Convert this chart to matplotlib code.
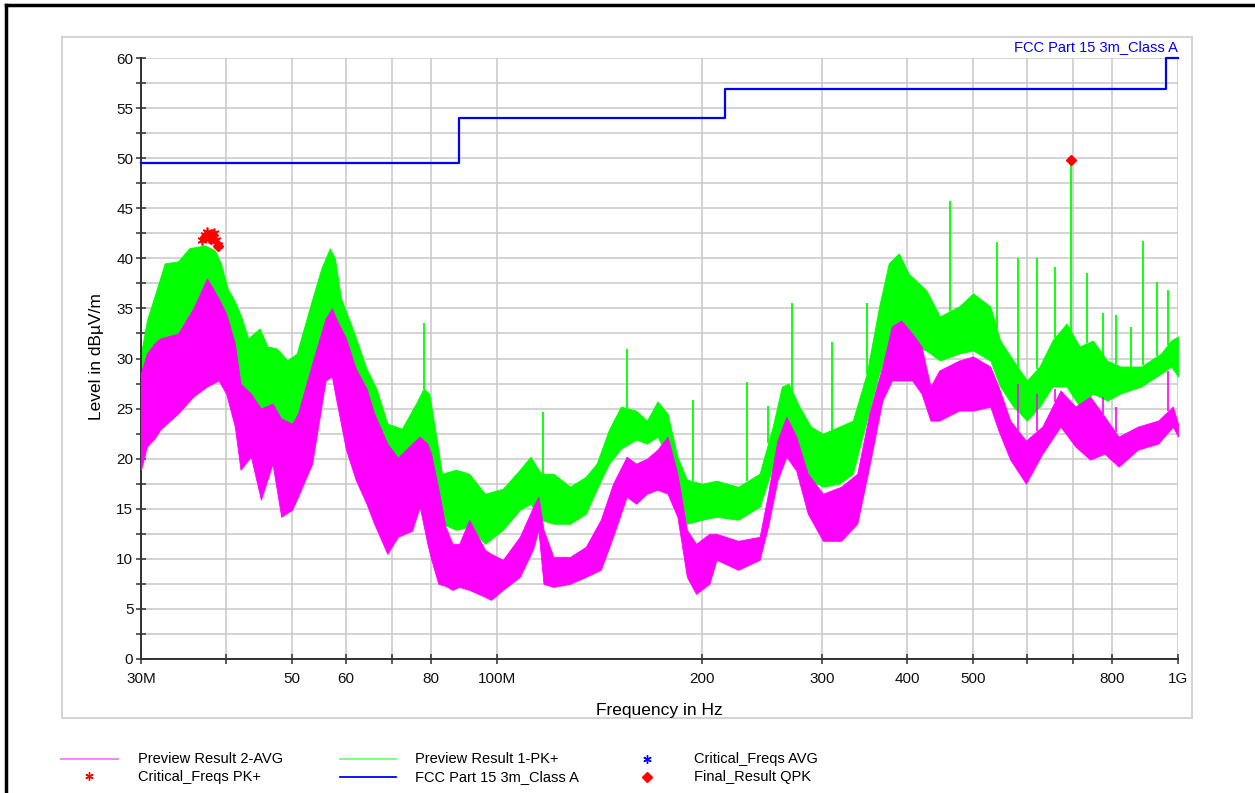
import numpy as np
import matplotlib.pyplot as plt
from matplotlib.lines import Line2D
from matplotlib.patches import Rectangle
from matplotlib.ticker import FixedLocator, MultipleLocator, NullLocator

plt.rcParams['font.family'] = ['Liberation Sans', 'DejaVu Sans']

# --- data (frequency in MHz, level in dBuV/m) ---
# peak trace envelope
pk_freq = [30, 30.6, 31.4, 32.5, 34, 35.3, 37.2, 38.5, 39.3, 40.2, 41.2, 42.1, 43.1,
           44.8, 46, 47.5, 49.2, 50.8, 53.3, 55.2, 56.8, 57.8, 59, 61.5, 64.3, 66.5,
           69, 72.5, 76, 78, 79.5, 81.5, 83, 87, 91, 96, 102, 108, 112, 116, 121, 128,
           135, 140, 146, 152, 160, 166, 172, 178, 184, 190, 200, 210, 226, 243, 254,
           262, 268, 278, 289, 301, 318, 333, 349, 364, 376, 389, 402, 427, 447, 477,
           500, 530, 548, 573, 600, 626, 654, 686, 717, 750, 787, 823, 883, 944, 977, 1000]
pk_high = [30.5, 33.8, 36.2, 39.5, 39.7, 41.0, 41.3, 40.8, 39.5, 37.0, 35.7, 34.2, 32.0,
           33.0, 31.2, 31.0, 29.8, 30.5, 35.5, 39.0, 41.0, 40.0, 36.0, 32.8, 29.0, 27.0,
           23.5, 23.0, 25.5, 27.0, 26.5, 22.0, 18.5, 18.9, 18.5, 16.5, 17.0, 18.9, 20.2,
           18.5, 18.5, 17.2, 18.2, 19.5, 22.9, 25.2, 24.8, 23.8, 25.7, 24.5, 20.2, 17.9,
           17.5, 17.8, 17.2, 18.5, 23.2, 27.2, 27.5, 25.2, 23.2, 22.5, 23.2, 23.8, 28.5,
           35.2, 39.5, 40.5, 38.5, 36.8, 34.2, 35.2, 36.5, 35.2, 31.8, 29.8, 27.8, 29.2,
           31.8, 33.5, 31.2, 31.8, 29.8, 29.2, 29.2, 30.5, 31.8, 32.2]
pk_low = [25.0, 27.0, 28.8, 30.5, 31.0, 31.5, 32.5, 32.5, 31.0, 29.0, 27.0, 25.5, 24.5,
          23.5, 22.8, 22.5, 21.5, 22.5, 26.0, 29.0, 30.5, 30.0, 28.0, 24.5, 21.5, 19.5,
          18.0, 18.5, 20.0, 22.0, 21.0, 16.9, 13.5, 12.9, 13.2, 11.5, 12.9, 14.9, 15.5,
          13.9, 13.5, 13.5, 14.5, 16.9, 19.5, 21.0, 21.9, 21.5, 22.2, 20.2, 16.5, 13.5,
          13.9, 14.2, 13.9, 15.2, 19.2, 21.8, 22.0, 20.5, 17.8, 17.2, 17.5, 18.5, 23.8,
          28.5, 31.2, 31.2, 31.2, 30.8, 29.8, 30.5, 30.8, 29.8, 27.2, 25.2, 23.8, 25.2,
          27.2, 27.2, 25.2, 26.5, 25.8, 26.5, 27.2, 28.5, 29.2, 28.2]

# narrow peak spikes on the peak trace
pk_spike_freq = [78, 116.7, 155, 194, 232.8, 250, 271, 310, 349, 463, 542, 582, 621,
                 659, 696, 735, 776, 810, 853, 888, 931, 966]
pk_spike_level = [33.5, 24.7, 30.9, 25.9, 27.7, 25.3, 35.5, 31.6, 35.5, 45.7, 41.6, 40.0,
                  40.0, 39.1, 49.5, 38.5, 34.5, 34.3, 33.1, 41.7, 37.6, 36.8]

# average trace envelope
avg_freq = [30, 30.6, 31.4, 32, 34, 35.8, 37.5, 39, 40, 41.2, 42, 43.5, 45, 46.8, 48.2,
            50, 51, 53.5, 56, 57.2, 58, 60, 62, 64.3, 66, 69, 71.5, 75, 77, 79, 80, 82,
            84, 86, 88, 91, 96, 98, 102, 108, 113, 115, 117, 121, 128, 135, 142, 148,
            155, 160, 166, 172, 178, 184, 190, 196, 205, 210, 226, 243, 250, 258, 266,
            275, 286, 301, 320, 338, 352, 368, 380, 392, 407, 420, 433, 446, 477, 500,
            530, 545, 567, 598, 632, 672, 707, 743, 780, 818, 873, 935, 983, 1000]
avg_high = [28.6, 30.5, 31.5, 32.0, 32.5, 35.0, 38.0, 36.0, 34.5, 31.5, 27.5, 26.5, 25.0,
            25.5, 24.0, 23.5, 24.5, 29.5, 34.0, 35.0, 34.0, 32.0, 29.0, 27.0, 24.5, 21.5,
            20.1, 21.5, 22.2, 21.5, 20.5, 17.0, 13.2, 11.5, 11.5, 13.9, 10.9, 10.5, 9.9,
            12.2, 15.2, 16.2, 12.9, 10.2, 10.2, 11.2, 13.9, 17.5, 20.2, 19.5, 20.0, 20.9,
            22.2, 18.5, 12.9, 11.5, 12.5, 12.5, 11.8, 12.2, 16.5, 21.8, 24.2, 22.2, 18.5,
            16.5, 17.2, 18.5, 24.5, 29.2, 33.2, 33.8, 32.5, 31.2, 27.2, 28.8, 29.8, 30.2,
            29.2, 27.2, 23.8, 21.8, 23.2, 26.8, 25.2, 26.2, 24.2, 22.2, 23.2, 23.8, 25.2, 23.5]
avg_low = [18.9, 21.2, 22.0, 22.9, 24.5, 26.2, 27.2, 27.8, 26.5, 23.2, 18.9, 20.2, 15.9,
           19.5, 14.2, 14.9, 16.2, 19.5, 27.8, 28.2, 26.0, 20.9, 17.9, 15.5, 13.5, 10.5,
           12.2, 12.8, 15.2, 11.5, 10.0, 7.5, 7.3, 6.9, 7.2, 6.9, 6.2, 5.9, 6.9, 8.2,
           11.0, 12.9, 7.5, 7.2, 7.5, 8.2, 8.9, 12.2, 16.2, 15.5, 16.5, 16.9, 16.5, 14.2,
           8.2, 6.5, 7.5, 9.9, 8.9, 9.9, 13.2, 17.8, 20.2, 18.8, 14.5, 11.8, 11.8, 13.5,
           19.2, 25.8, 27.8, 27.8, 27.8, 26.5, 23.8, 23.8, 24.8, 24.8, 25.2, 22.8, 19.9,
           17.5, 20.5, 23.2, 21.2, 19.9, 20.5, 19.2, 20.9, 21.5, 23.2, 22.2]

avg_spike_freq = [582, 621, 659, 776, 810, 968]
avg_spike_level = [27.5, 26.5, 27.0, 26.2, 25.2, 28.8]

# limit line (FCC Part 15, 3 m, class A)
limit_freq = [30, 88, 216, 960, 1000]
limit_level = [49.5, 54.0, 56.9, 60.0, 60.0]

# markers
crit_pk_freq = [36.9, 37.2, 37.5, 37.8, 38.1, 38.4, 38.7, 38.9]
crit_pk_level = [41.8, 42.3, 42.6, 42.0, 42.4, 42.5, 41.8, 41.3]
qpk_freq = [37.3, 38.0, 38.9, 696]
qpk_level = [42.1, 41.9, 41.2, 49.8]

xtick_vals = [30, 40, 50, 60, 70, 80, 100, 200, 300, 400, 500, 600, 700, 800, 1000]
xtick_labels = ['30M', '', '50', '60', '', '80', '100M', '200', '300', '400', '500',
                '', '', '800', '1G']

GREEN = '#00ff00'
MAGENTA = '#ff00ff'
BLUE = '#0000ff'
RED = '#ff0000'

W, H = 1255, 793
def fx(x):
    return x / W
def fy(y):
    return 1 - y / H

fig = plt.figure(figsize=(12.55, 7.93), dpi=100)

# outer frame and grey panel
fig.add_artist(Line2D([fx(6), 1], [fy(5), fy(5)], color='black', lw=2.5))
fig.add_artist(Line2D([fx(6), fx(6)], [0, fy(5)], color='black', lw=2.5))
fig.add_artist(Rectangle((fx(62), fy(718)), fx(1192) - fx(62), fy(37) - fy(718),
                         transform=fig.transFigure, fill=False, edgecolor='#d4d4d4', lw=1.5))

ax = fig.add_axes([fx(141), fy(659), fx(1178) - fx(141), fy(58) - fy(659)])
ax.set_xscale('log')

# peak trace
ax.fill_between(pk_freq, pk_low, pk_high, color=GREEN, lw=0.6, zorder=2)
lf = np.log10(pk_freq)
pk_base = np.interp(np.log10(pk_spike_freq), lf, pk_high)
ax.vlines(pk_spike_freq, pk_base, pk_spike_level, color=GREEN, lw=1.3, zorder=2)

# average trace
ax.fill_between(avg_freq, avg_low, avg_high, color=MAGENTA, lw=0.6, zorder=3)
avg_base = np.interp(np.log10(avg_spike_freq), np.log10(avg_freq), avg_high)
ax.vlines(avg_spike_freq, avg_base, avg_spike_level, color=MAGENTA, lw=1.2, zorder=3)

# limit
ax.step(limit_freq, limit_level, where='post', color=BLUE, lw=1.6, zorder=4, clip_on=False)

# markers
ax.plot(crit_pk_freq, crit_pk_level, ls='none', marker=(6, 2, 0), color=RED,
        ms=7, mew=1.2, zorder=5)
ax.plot(qpk_freq, qpk_level, ls='none', marker='D', color=RED, ms=5.5, zorder=6)

ax.set_xlim(30, 1000)
ax.set_ylim(0, 60)
ax.xaxis.set_major_locator(FixedLocator(xtick_vals))
ax.set_xticklabels(xtick_labels)
ax.xaxis.set_minor_locator(NullLocator())
ax.yaxis.set_major_locator(MultipleLocator(5))
ax.yaxis.set_minor_locator(MultipleLocator(2.5))

ax.grid(True, which='both', color='#c8c8c8', lw=1.1)
ax.set_axisbelow(True)
for s in ['top', 'right']:
    ax.spines[s].set_visible(False)
for s in ['left', 'bottom']:
    ax.spines[s].set_color('#303030')
    ax.spines[s].set_linewidth(1.4)
ax.tick_params(axis='both', which='both', direction='inout', length=7, width=1.1,
               color='#303030', labelsize=11, labelcolor='#111111')
ax.tick_params(axis='x', pad=6)
ax.tick_params(axis='y', pad=2)

fig.text(fx(659), fy(710), 'Frequency in Hz', ha='center', va='center', fontsize=12.5)
fig.text(fx(97), fy(357), 'Level in dBµV/m', ha='center', va='center',
         rotation=90, fontsize=12.5)
fig.text(fx(1178), fy(47), 'FCC Part 15 3m_Class A', ha='right', va='center',
         color=BLUE, fontsize=10.5)

# legend drawn by hand to keep the original layout
def leg_line(x0, x1, y, color):
    fig.add_artist(Line2D([fx(x0), fx(x1)], [fy(y), fy(y)], color=color, lw=1.3))

def leg_mark(x, y, color, marker, ms, mew=1.0):
    fig.add_artist(Line2D([fx(x)], [fy(y)], ls='none', marker=marker, color=color,
                          ms=ms, mew=mew))

leg_line(61, 118, 759, '#ff77ff')
leg_mark(89, 776, RED, (6, 2, 0), 6)
leg_line(340, 396, 759, '#77ff77')
leg_line(340, 396, 777, BLUE)
leg_mark(647, 759, BLUE, (6, 2, 0), 6)
leg_mark(647, 777, RED, 'D', 5.5)

leg_text = [(138, 759, 'Preview Result 2-AVG'), (138, 777, 'Critical_Freqs PK+'),
            (415, 759, 'Preview Result 1-PK+'), (415, 777, 'FCC Part 15 3m_Class A'),
            (694, 759, 'Critical_Freqs AVG'), (694, 777, 'Final_Result QPK')]
for x, y, t in leg_text:
    fig.text(fx(x), fy(y), t, ha='left', va='center', fontsize=10.5)

fig.savefig('out.png', dpi=100)
